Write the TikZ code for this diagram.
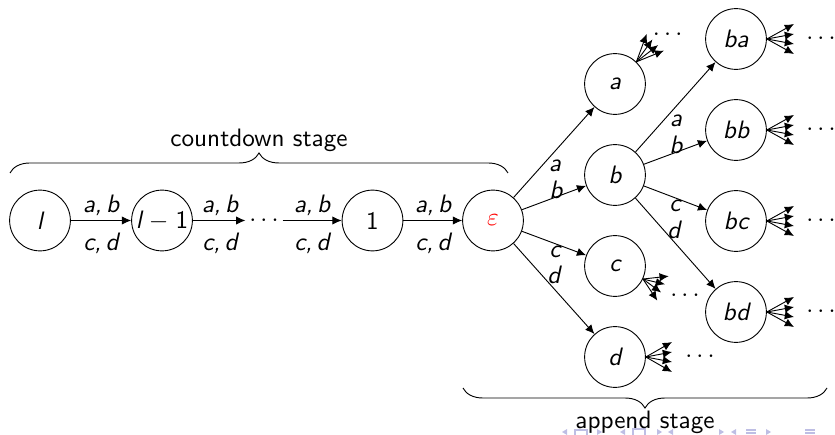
\documentclass[tikz,border=0pt]{standalone}
\usepackage{fontspec}
\usetikzlibrary{arrows.meta,decorations.pathreplacing,calc}
\definecolor{navcol}{RGB}{190,190,228}
\begin{document}
\begin{tikzpicture}[x=0.4345pt,y=0.4345pt,
  font=\fontsize{10.95}{13}\selectfont\sffamily,
  st/.style={circle,draw,minimum size=26.4pt,inner sep=0pt},
  arr/.style={-{Latex[length=4pt,width=3.6pt]}},
  lbl/.style={inner sep=0pt,anchor=base},
  dotn/.style={inner sep=1.5pt},
  navtri/.style={fill=navcol,draw=none},
  navline/.style={draw=navcol,line width=0.6pt},
  bracedec/.style={decorate,decoration={brace,amplitude=8.7pt}}]
\useasboundingbox (0,0) rectangle (835,435);

% navigation symbols (cut at the bottom edge)
\fill[navtri] (562,3) -- (567,6) -- (567,0) -- cycle;
\draw[navline] (575,0) -- (575,5) -- (587,5) -- (587,0);
\fill[navtri] (602,3) -- (597,6) -- (597,0) -- cycle;
\fill[navtri] (620,3) -- (625,6) -- (625,0) -- cycle;
\draw[navline] (633,0) -- (633,6) -- (645,6) -- (645,0);
\fill[navtri] (662,3) -- (657,6) -- (657,0) -- cycle;
\fill[navtri] (668,3) -- (673,6) -- (673,0) -- cycle;
\fill[navtri] (724,3) -- (719,6) -- (719,0) -- cycle;
\fill[navtri] (731,3) -- (736,6) -- (736,0) -- cycle;
\draw[navline] (746,5) -- (756,5) (746,2) -- (756,2);
\fill[navtri] (771,3) -- (766,6) -- (766,0) -- cycle;
\draw[navline] (805,5) -- (815,5) (805,2) -- (815,2);

% countdown chain
\node[st] (l) at (40,214.5) {\itshape l};
\node[st] (l1) at (162,214.5) {\itshape l\upshape$\;-\;$1};
\node[dotn] (dt) at (264,214.5) {$\cdots$};
\node[st] (one) at (372.5,214.5) {1};
\node[st] (eps) at (493,214.5) {\color{red}$\varepsilon$};

\draw[arr] (l) -- (l1);
\draw[arr] (l1) -- (dt);
\draw[arr] (dt) -- (one);
\draw[arr] (one) -- (eps);

\node[lbl] (lab1) at (101,222.5) {\itshape a,\,b};
\node[lbl] (lcd1) at (101,184) {\itshape c,\,d};
\node[lbl] (lab2) at (220,222.5) {\itshape a,\,b};
\node[lbl] (lcd2) at (220,184) {\itshape c,\,d};
\node[lbl] (lab3) at (312,222.5) {\itshape a,\,b};
\node[lbl] (lcd3) at (312,184) {\itshape c,\,d};
\node[lbl] (lab4) at (433,222.5) {\itshape a,\,b};
\node[lbl] (lcd4) at (433,184) {\itshape c,\,d};

% append tree
\node[st] (a) at (615,351) {\itshape a};
\node[st] (b) at (615,260) {\itshape b};
\node[st] (c) at (615,169) {\itshape c};
\node[st] (d) at (615,78) {\itshape d};
\node[st] (ba) at (736,396) {\itshape ba};
\node[st] (bb) at (736,305) {\itshape bb};
\node[st] (bc) at (736,214) {\itshape bc};
\node[st] (bd) at (736,123) {\itshape bd};

\foreach \s in {a,b,c,d} \draw[arr] (eps) -- (\s);
\foreach \s in {ba,bb,bc,bd} \draw[arr] (b) -- (\s);

\node[lbl] (ea) at ($(eps)+(62,48.5)$) {\itshape a};
\node[lbl] (eb) at ($(eps)+(63,21.5)$) {\itshape b};
\node[lbl] (ec) at ($(eps)+(62,-36.8)$) {\itshape c};
\node[lbl] (ed) at ($(eps)+(61,-62.8)$) {\itshape d};
\node[lbl] (ba-l) at ($(b)+(61,48.3)$) {\itshape a};
\node[lbl] (bb-l) at ($(b)+(61,21.7)$) {\itshape b};
\node[lbl] (bc-l) at ($(b)+(60,-36.7)$) {\itshape c};
\node[lbl] (bd-l) at ($(b)+(59,-63.3)$) {\itshape d};

% fans of further edges
\foreach \L/\th/\D/\sp/\dd/\ph in {a/46/58/8/72/43, ba/0/58/10/85/0, bb/0/58/10/85/0, bc/0/58/10/85/0, bd/0/58/10/85/0, c/-25/53/9/76/-23, d/0/57/10/85/0}{
  \foreach \o in {-1.5,-0.5,0.5,1.5}
    \draw[arr] (\L.\th) -- ($(\L)+(\th:\D)+({\th+90}:{\o*\sp})$);
  \node[dotn] (\L-dots) at ($(\L)+(\ph:\dd)$) {$\cdots$};
}

% braces
\coordinate (cb1) at (10,262);
\coordinate (cb2) at (508,262);
\draw[bracedec] (cb1) -- (cb2);
\node[lbl] (cdt) at (259,288) {countdown stage};

\coordinate (ab1) at (827,47);
\coordinate (ab2) at (463,47);
\draw[bracedec] (ab1) -- (ab2);
\node[lbl] (apt) at (645,6) {append stage};
\end{tikzpicture}
\end{document}
